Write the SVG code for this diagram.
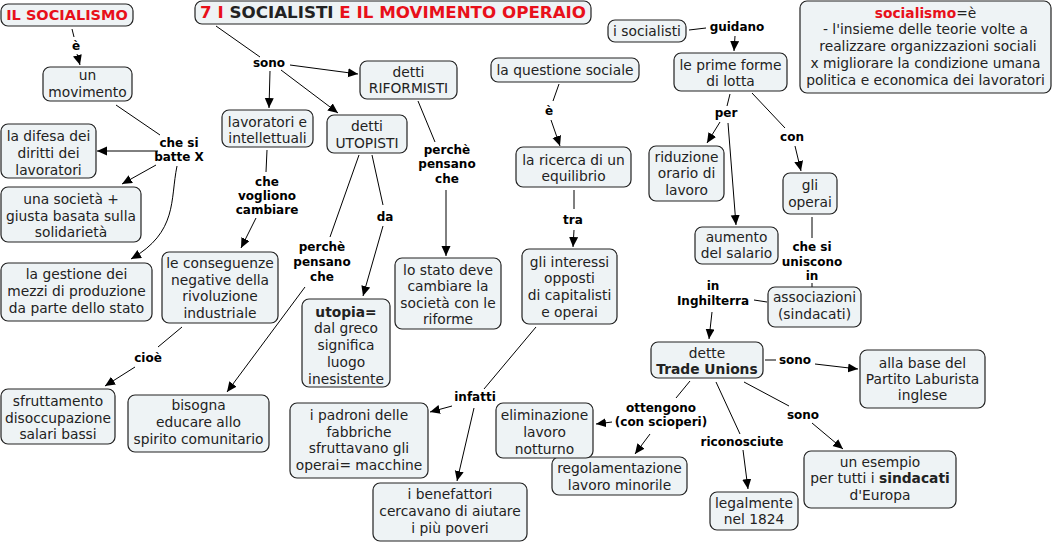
<svg xmlns="http://www.w3.org/2000/svg" width="1054" height="543" viewBox="0 0 1054 543">
<defs>
<marker id="ah" markerUnits="userSpaceOnUse" markerWidth="11" markerHeight="10" refX="10" refY="4.5" orient="auto">
<path d="M0,0 L10,4.5 L0,9 z" fill="#000"/>
</marker>
<style>
.n rect{fill:#eef3f5;stroke:#222;stroke-width:1.2}
.n text{font-family:"DejaVu Sans",Verdana,sans-serif;font-size:13.8px;fill:#222;text-anchor:middle}
.n .b{font-weight:bold}
.n .red{fill:#e8101a}
.lbl text{font-family:"DejaVu Sans",Verdana,sans-serif;font-size:12px;font-weight:bold;fill:#000;text-anchor:middle}
#links line,#links path{stroke:#000;stroke-width:1;fill:none}
#links .a{marker-end:url(#ah)}
</style>
</defs>
<rect width="1054" height="543" fill="#fff"/>

<g id="links">
<line x1="72" y1="29" x2="74" y2="37"/>
<line class="a" x1="77" y1="54" x2="80" y2="65"/>
<line x1="116" y1="105" x2="160" y2="135"/>
<line class="a" x1="158" y1="151" x2="97" y2="151"/>
<line class="a" x1="156" y1="165" x2="122" y2="184"/>
<path class="a" d="M177,166 C170,200 178,232 131,259"/>
<line x1="216" y1="26" x2="260" y2="57"/>
<line class="a" x1="270" y1="71" x2="269" y2="108"/>
<line class="a" x1="281" y1="70" x2="338" y2="113"/>
<line class="a" x1="290" y1="65" x2="358" y2="74"/>
<line x1="267" y1="150" x2="266" y2="172"/>
<line class="a" x1="256" y1="218" x2="241" y2="248"/>
<line x1="359" y1="155" x2="330" y2="237"/>
<line class="a" x1="305" y1="287" x2="227" y2="392"/>
<line x1="372" y1="155" x2="383" y2="205"/>
<line class="a" x1="383" y1="226" x2="363" y2="296"/>
<line x1="418" y1="101" x2="435" y2="142"/>
<line class="a" x1="446" y1="190" x2="446" y2="256"/>
<line x1="559" y1="84" x2="553" y2="101"/>
<line class="a" x1="551" y1="120" x2="560" y2="146"/>
<line x1="574" y1="190" x2="574" y2="209"/>
<line class="a" x1="574" y1="230" x2="573" y2="247"/>
<line x1="536" y1="327" x2="484" y2="389"/>
<line class="a" x1="452" y1="406" x2="430" y2="412"/>
<line class="a" x1="474" y1="408" x2="457" y2="481"/>
<line x1="689" y1="30" x2="706" y2="28"/>
<line class="a" x1="735" y1="36" x2="734" y2="51"/>
<line x1="730" y1="94" x2="727" y2="106"/>
<line class="a" x1="720" y1="122" x2="707" y2="143"/>
<line class="a" x1="728" y1="123" x2="736" y2="225"/>
<line x1="752" y1="93" x2="785" y2="128"/>
<line class="a" x1="795" y1="146" x2="801" y2="171"/>
<line x1="812" y1="217" x2="812" y2="238"/>
<line x1="812" y1="283" x2="812" y2="287"/>
<line x1="767" y1="302" x2="754" y2="300"/>
<line class="a" x1="712" y1="312" x2="709" y2="339"/>
<line x1="765" y1="360" x2="776" y2="360"/>
<line class="a" x1="815" y1="364" x2="858" y2="369"/>
<line x1="744" y1="382" x2="789" y2="406"/>
<line class="a" x1="812" y1="423" x2="843" y2="449"/>
<line x1="716" y1="382" x2="740" y2="434"/>
<line class="a" x1="743" y1="450" x2="748" y2="489"/>
<line x1="690" y1="381" x2="676" y2="398"/>
<line class="a" x1="612" y1="422" x2="596" y2="424"/>
<line class="a" x1="650" y1="434" x2="635" y2="454"/>
<line x1="182" y1="327" x2="158" y2="347"/>
<line class="a" x1="135" y1="367" x2="105" y2="386"/>
</g>

<g id="labels" class="lbl">
<text x="76" y="50">è</text>
<text x="179" y="147">che si</text><text x="179" y="161">batte X</text>
<text x="269" y="67">sono</text>
<text x="267" y="186">che</text><text x="267" y="200">vogliono</text><text x="267" y="214">cambiare</text>
<text x="322" y="251">perchè</text><text x="322" y="266">pensano</text><text x="322" y="281">che</text>
<text x="385" y="221">da</text>
<text x="447" y="154">perchè</text><text x="447" y="168">pensano</text><text x="447" y="183">che</text>
<text x="549" y="115">è</text>
<text x="573" y="224">tra</text>
<text x="475" y="401">infatti</text>
<text x="737" y="31">guidano</text>
<text x="726" y="117">per</text>
<text x="792" y="141">con</text>
<text x="812" y="251">che si</text><text x="812" y="266">uniscono</text><text x="812" y="280">in</text>
<text x="713" y="290">in</text><text x="713" y="305">Inghilterra</text>
<text x="795" y="364">sono</text>
<text x="803" y="419">sono</text>
<text x="742" y="446">riconosciute</text>
<text x="661" y="412">ottengono</text><text x="661" y="426">(con scioperi)</text>
<text x="148" y="362">cioè</text>
</g>

<g id="n_ilsoc" class="n"><rect x="1" y="4" width="132" height="22" rx="7"/><text x="67" y="20" class="b red" style="font-size:14.5px">IL SOCIALISMO</text></g>
<g id="n_title" class="n"><rect x="195" y="1" width="396" height="23" rx="7"/><text x="393" y="18" class="b" style="font-size:16.7px"><tspan class="red">7 I </tspan>SOCIALISTI <tspan class="red">E IL MOVIMENTO OPERAIO</tspan></text></g>
<g id="n_movimento" class="n"><rect x="43" y="67" width="89" height="34" rx="7"/><text x="87.5" y="80">un</text><text x="87.5" y="97">movimento</text></g>
<g id="n_difesa" class="n"><rect x="1" y="124" width="95" height="54" rx="7"/><text x="48.5" y="141">la difesa dei</text><text x="48.5" y="158">diritti dei</text><text x="48.5" y="175">lavoratori</text></g>
<g id="n_societa" class="n"><rect x="1" y="187" width="140" height="55" rx="7"/><text x="71" y="203.5">una società +</text><text x="71" y="220.5">giusta basata sulla</text><text x="71" y="237">solidarietà</text></g>
<g id="n_gestione" class="n"><rect x="1" y="263" width="151" height="58" rx="7"/><text x="76.5" y="278.5">la gestione dei</text><text x="76.5" y="295.5">mezzi di produzione</text><text x="76.5" y="312.5">da parte dello stato</text></g>
<g id="n_lavint" class="n"><rect x="222" y="110" width="91" height="37" rx="7"/><text x="267.5" y="126.5">lavoratori e</text><text x="267.5" y="142.5">intellettuali</text></g>
<g id="n_utopisti" class="n"><rect x="327" y="115" width="80" height="38" rx="7"/><text x="367" y="130.5">detti</text><text x="367" y="147.5">UTOPISTI</text></g>
<g id="n_riformisti" class="n"><rect x="360" y="61" width="97" height="38" rx="7"/><text x="408.5" y="76.5">detti</text><text x="408.5" y="92.5">RIFORMISTI</text></g>
<g id="n_questione" class="n"><rect x="491" y="58" width="148" height="24" rx="7"/><text x="565" y="74.5">la questione sociale</text></g>
<g id="n_ricerca" class="n"><rect x="516" y="147" width="115" height="40" rx="7"/><text x="573.5" y="164.5">la ricerca di un</text><text x="573.5" y="181">equilibrio</text></g>
<g id="n_socialisti" class="n"><rect x="608" y="20" width="78" height="22" rx="7"/><text x="647" y="35.5">i socialisti</text></g>
<g id="n_lotta" class="n"><rect x="674" y="53" width="113" height="38" rx="7"/><text x="730.5" y="69.5">le prime forme</text><text x="730.5" y="85.5">di lotta</text></g>
<g id="n_def" class="n"><rect x="800" y="1" width="251" height="92" rx="7"/><text x="925.5" y="17.5"><tspan class="b red">socialismo</tspan>=è</text><text x="925.5" y="34">- l'insieme delle teorie volte a</text><text x="928" y="51">realizzare organizzazioni sociali</text><text x="925.5" y="67.5">x migliorare la condizione umana</text><text x="925.5" y="84.5">politica e economica dei lavoratori</text></g>
<g id="n_riduzione" class="n"><rect x="649" y="146" width="75" height="55" rx="7"/><text x="686.5" y="161.5">riduzione</text><text x="686.5" y="178">orario di</text><text x="686.5" y="195">lavoro</text></g>
<g id="n_operai" class="n"><rect x="783" y="173" width="54" height="41" rx="7"/><text x="810" y="189.5">gli</text><text x="810" y="206.5">operai</text></g>
<g id="n_aumento" class="n"><rect x="695" y="227" width="83" height="37" rx="7"/><text x="736.5" y="241.5">aumento</text><text x="736.5" y="258">del salario</text></g>
<g id="n_assoc" class="n"><rect x="768" y="287" width="93" height="40" rx="7"/><text x="814.5" y="301.5">associazioni</text><text x="814.5" y="318.5">(sindacati)</text></g>
<g id="n_trade" class="n"><rect x="651" y="342" width="112" height="36" rx="7"/><text x="707" y="357.5">dette</text><text x="707" y="373.5" class="b">Trade Unions</text></g>
<g id="n_laburista" class="n"><rect x="860" y="350" width="125" height="58" rx="7"/><text x="922.5" y="367.5">alla base del</text><text x="922.5" y="384">Partito Laburista</text><text x="922.5" y="400">inglese</text></g>
<g id="n_esempio" class="n"><rect x="804" y="451" width="152" height="57" rx="7"/><text x="880" y="466.5">un esempio</text><text x="880" y="483">per tutti i <tspan class="b">sindacati</tspan></text><text x="880" y="499.5">d'Europa</text></g>
<g id="n_legal" class="n"><rect x="710" y="492" width="88" height="38" rx="7"/><text x="754" y="507.5">legalmente</text><text x="754" y="524">nel 1824</text></g>
<g id="n_regol" class="n"><rect x="552" y="457" width="135" height="38" rx="7"/><text x="619.5" y="472.5">regolamentazione</text><text x="619.5" y="490">lavoro minorile</text></g>
<g id="n_elim" class="n"><rect x="496" y="403" width="97" height="55" rx="7"/><text x="544.5" y="419.5">eliminazione</text><text x="544.5" y="436.5">lavoro</text><text x="544.5" y="453.5">notturno</text></g>
<g id="n_benef" class="n"><rect x="373" y="483" width="154" height="58" rx="7"/><text x="450" y="498.5">i benefattori</text><text x="450" y="515.5">cercavano di aiutare</text><text x="450" y="532.5">i più poveri</text></g>
<g id="n_padroni" class="n"><rect x="290" y="403" width="138" height="75" rx="7"/><text x="359" y="419.5">i padroni delle</text><text x="359" y="436.5">fabbriche</text><text x="359" y="453">sfruttavano gli</text><text x="359" y="470">operai= macchine</text></g>
<g id="n_interessi" class="n"><rect x="522" y="249" width="95" height="75" rx="7"/><text x="569.5" y="266.5">gli interessi</text><text x="569.5" y="283">opposti</text><text x="569.5" y="299.5">di capitalisti</text><text x="569.5" y="316.5">e operai</text></g>
<g id="n_riforme" class="n"><rect x="395" y="258" width="106" height="71" rx="7"/><text x="448" y="274.5">lo stato deve</text><text x="448" y="290.5">cambiare la</text><text x="448" y="307.5">società con le</text><text x="448" y="323.5">riforme</text></g>
<g id="n_utopia" class="n"><rect x="302" y="299" width="88" height="88" rx="7"/><text x="346" y="316.5" class="b">utopia=</text><text x="346" y="333">dal greco</text><text x="346" y="350">significa</text><text x="346" y="366.5">luogo</text><text x="346" y="383.5">inesistente</text></g>
<g id="n_conseg" class="n"><rect x="162" y="252" width="116" height="71" rx="7"/><text x="220" y="267.5">le conseguenze</text><text x="220" y="284.5">negative della</text><text x="220" y="301">rivoluzione</text><text x="220" y="318">industriale</text></g>
<g id="n_sfrutt" class="n"><rect x="1" y="389" width="114" height="55" rx="7"/><text x="58" y="405.5">sfruttamento</text><text x="58" y="422.5">disoccupazione</text><text x="58" y="438.5">salari bassi</text></g>
<g id="n_bisogna" class="n"><rect x="128" y="395" width="141" height="57" rx="7"/><text x="198.5" y="409.5">bisogna</text><text x="198.5" y="426.5">educare allo</text><text x="198.5" y="443.5">spirito comunitario</text></g>
</svg>
